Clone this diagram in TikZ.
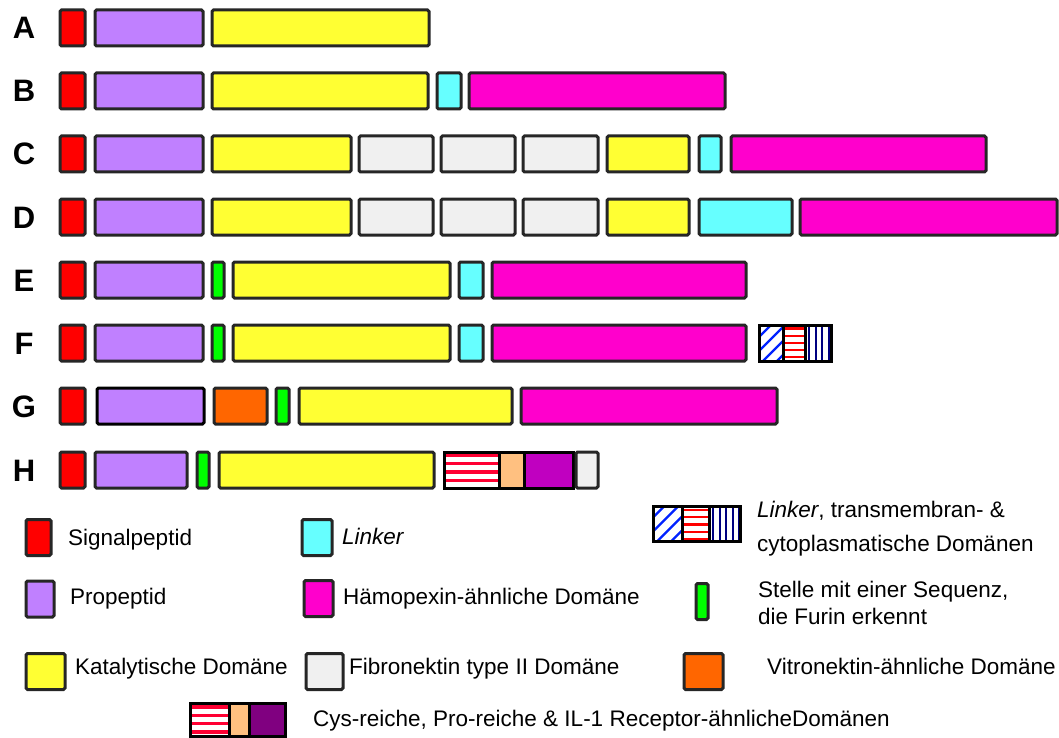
\documentclass[tikz,border=0pt]{standalone}
\usepackage{fontspec}
\setmainfont{Liberation Sans}

\definecolor{edge}{HTML}{262626}
\definecolor{sigred}{HTML}{FF0000}
\definecolor{propurple}{HTML}{C080FF}
\definecolor{catyellow}{HTML}{FFFF33}
\definecolor{lnkcyan}{HTML}{66FFFF}
\definecolor{hpxpink}{HTML}{FF00CC}
\definecolor{fngrey}{HTML}{F0F0F0}
\definecolor{furgreen}{HTML}{00FF00}
\definecolor{vtnorange}{HTML}{FF6600}
\definecolor{prrapricot}{HTML}{FFC080}
\definecolor{ilrmagenta}{HTML}{C000C0}
\definecolor{ilrplum}{HTML}{800080}
\definecolor{cysred}{HTML}{FF0033}
\definecolor{tmblue}{HTML}{0022FF}
\definecolor{tmnavy}{HTML}{000080}

\tikzset{
  dom/.style={draw=edge, line width=3pt, rounded corners=1.5pt,
    minimum height=36pt, inner sep=0pt, anchor=west},
  seg/.style={dom, draw=black, rounded corners=0pt, fill=white},
  sig/.style={dom, fill=sigred, minimum width=25},
  prop/.style={dom, fill=propurple},
  cata/.style={dom, fill=catyellow},
  lnk/.style={dom, fill=lnkcyan},
  hpx/.style={dom, fill=hpxpink},
  fnii/.style={dom, fill=fngrey},
  furin/.style={dom, fill=furgreen},
  vitro/.style={dom, fill=vtnorange},
  % striped segments, the stripes are clipped to the box
  tmdiag/.style={seg, path picture={
      \foreach \k in {-4,...,4}
        \draw[tmblue, line width=2.3pt]
          ([xshift=\k*14pt+4pt]path picture bounding box.south west) -- ++(45pt,45pt);}},
  tmhori/.style={seg, path picture={
      \foreach \k in {0,...,5}
        \draw[sigred, line width=2.2pt]
          ([yshift=-\k*7.2pt-3.5pt]path picture bounding box.north west) -- ++(40pt,0pt);}},
  tmvert/.style={seg, path picture={
      \foreach \k in {0,...,5}
        \draw[tmnavy, line width=2pt]
          ([xshift=\k*6.5pt+3.5pt]path picture bounding box.north west) -- ++(0pt,-40pt);}},
  cysr/.style={seg, path picture={
      \foreach \k in {0,...,4}
        \draw[cysred, line width=3.3pt]
          ([yshift=-\k*8.3pt-3.5pt]path picture bounding box.north west) -- ++(80pt,0pt);}},
  prr/.style={seg, fill=prrapricot},
  ilr/.style={seg, fill=ilrmagenta},
  row/.style={anchor=base, inner sep=0pt, font=\fontsize{31}{37}\selectfont\bfseries},
  lab/.style={anchor=base west, inner sep=0pt, font=\fontsize{22.5}{27}\selectfont},
}

\begin{document}
\begin{tikzpicture}[x=1pt, y=-1pt]
  \fill[white] (0,0) rectangle (1059,738);
  \useasboundingbox (0,0) rectangle (1059,738);

  % Row A
  \node[row] (lA) at (24,39) {A};
  \node[sig] (A1) at (58.5,28) {};
  \node[prop, minimum width=108] (A2) at (93.5,28) {};
  \node[cata, minimum width=217] (A3) at (210.5,28) {};

  % Row B
  \node[row] (lB) at (24,102) {B};
  \node[sig] (B1) at (58.5,91) {};
  \node[prop, minimum width=108] (B2) at (93.5,91) {};
  \node[cata, minimum width=216] (B3) at (210.5,91) {};
  \node[lnk, minimum width=24] (B4) at (435.5,91) {};
  \node[hpx, minimum width=256] (B5) at (467.5,91) {};

  % Row C
  \node[row] (lC) at (24,165) {C};
  \node[sig] (C1) at (58.5,154) {};
  \node[prop, minimum width=108] (C2) at (93.5,154) {};
  \node[cata, minimum width=139] (C3) at (210.5,154) {};
  \node[fnii, minimum width=74] (C4) at (357.5,154) {};
  \node[fnii, minimum width=74] (C5) at (439.5,154) {};
  \node[fnii, minimum width=75] (C6) at (521.5,154) {};
  \node[cata, minimum width=82] (C7) at (605.5,154) {};
  \node[lnk, minimum width=22] (C8) at (697.5,154) {};
  \node[hpx, minimum width=255] (C9) at (729.5,154) {};

  % Row D
  \node[row] (lD) at (24,228) {D};
  \node[sig] (D1) at (58.5,217) {};
  \node[prop, minimum width=108] (D2) at (93.5,217) {};
  \node[cata, minimum width=139] (D3) at (210.5,217) {};
  \node[fnii, minimum width=74] (D4) at (357.5,217) {};
  \node[fnii, minimum width=74] (D5) at (439.5,217) {};
  \node[fnii, minimum width=75] (D6) at (521.5,217) {};
  \node[cata, minimum width=82] (D7) at (605.5,217) {};
  \node[lnk, minimum width=93] (D8) at (697.5,217) {};
  \node[hpx, minimum width=257] (D9) at (798.5,217) {};

  % Row E
  \node[row] (lE) at (24,291) {E};
  \node[sig] (E1) at (58.5,280) {};
  \node[prop, minimum width=108] (E2) at (93.5,280) {};
  \node[furin, minimum width=12] (E3) at (210.5,280) {};
  \node[cata, minimum width=217] (E4) at (231.5,280) {};
  \node[lnk, minimum width=24] (E5) at (457.5,280) {};
  \node[hpx, minimum width=254] (E6) at (490.5,280) {};

  % Row F
  \node[row] (lF) at (24,354) {F};
  \node[sig] (F1) at (58.5,343) {};
  \node[prop, minimum width=108] (F2) at (93.5,343) {};
  \node[furin, minimum width=12] (F3) at (210.5,343) {};
  \node[cata, minimum width=217] (F4) at (231.5,343) {};
  \node[lnk, minimum width=24] (F5) at (457.5,343) {};
  \node[hpx, minimum width=254] (F6) at (490.5,343) {};
  \node[tmdiag, minimum width=24.5] (F7) at (757.5,343) {};
  \node[tmhori, minimum width=22] (F8) at (782,343) {};
  \node[tmvert, minimum width=25.5] (F9) at (804,343) {};

  % Row G
  \node[row] (lG) at (24,417) {G};
  \node[sig] (G1) at (58.5,406) {};
  \node[prop, draw=black, minimum width=107] (G2) at (95.5,406) {};
  \node[vitro, minimum width=53] (G3) at (212.5,406) {};
  \node[furin, minimum width=13] (G4) at (274.5,406) {};
  \node[cata, minimum width=213] (G5) at (297.5,406) {};
  \node[hpx, minimum width=256] (G6) at (519.5,406) {};

  % Row H
  \node[row] (lH) at (24,481) {H};
  \node[sig] (H1) at (58.5,470) {};
  \node[prop, minimum width=92] (H2) at (93.5,470) {};
  \node[furin, minimum width=12] (H3) at (195.5,470) {};
  \node[cata, minimum width=215] (H4) at (217.5,470) {};
  \node[cysr, minimum width=55.5] (H5) at (442.5,470) {};
  \node[prr, minimum width=25] (H6) at (498,470) {};
  \node[ilr, minimum width=49] (H7) at (523,470) {};
  \node[fnii, minimum width=22] (H8) at (574.5,470) {};

  % Legend, first column
  \node[sig] (kSig) at (24.5,537.5) {};
  \node[lab] (tSig) at (68,545) {Signalpeptid};
  \node[prop, minimum width=28] (kPro) at (24.5,599) {};
  \node[lab] (tPro) at (70,604) {Propeptid};
  \node[cata, minimum width=39] (kCat) at (24.5,671.5) {};
  \node[lab] (tCat) at (75,674) {Katalytische Domäne};

  % Legend, second column
  \node[lnk, minimum width=30] (kLnk) at (300.5,537.5) {};
  \node[lab] (tLnk) at (342,544) {\itshape Linker};
  \node[hpx, minimum width=29] (kHpx) at (302.5,598.5) {};
  \node[lab] (tHpx) at (343,604) {Hämopexin-ähnliche Domäne};
  \node[fnii, minimum width=37] (kFn) at (304.5,671.5) {};
  \node[lab] (tFn) at (349,674) {Fibronektin type II Domäne};

  % Legend, third column
  \node[tmdiag, minimum height=35, minimum width=29.5] (kTm1) at (651.5,524) {};
  \node[tmhori, minimum height=35, minimum width=27] (kTm2) at (681,524) {};
  \node[tmvert, minimum height=35, minimum width=30.5] (kTm3) at (708,524) {};
  \node[lab] (tTmA) at (757,517) {\itshape Linker\upshape, transmembran- \&};
  \node[lab] (tTmB) at (757,551) {cytoplasmatische Domänen};
  \node[furin, minimum width=12] (kFur) at (694.5,601.5) {};
  \node[lab] (tFurA) at (758,597) {Stelle mit einer Sequenz,};
  \node[lab] (tFurB) at (758,624) {die Furin erkennt};
  \node[vitro, minimum width=39] (kVtn) at (682.5,671.5) {};
  \node[lab] (tVtn) at (767,674) {Vitronektin-ähnliche Domäne};

  % Legend, bottom line
  \node[cysr, minimum height=33, minimum width=39.5] (kCys) at (188.5,720) {};
  \node[prr, minimum height=33, minimum width=20] (kPrr) at (228,720) {};
  \node[ilr, fill=ilrplum, minimum height=33, minimum width=35.5] (kIlr) at (248,720) {};
  \node[lab] (tCys) at (313,726) {Cys-reiche, Pro-reiche \& IL-1 Receptor-ähnlicheDomänen};
\end{tikzpicture}
\end{document}
